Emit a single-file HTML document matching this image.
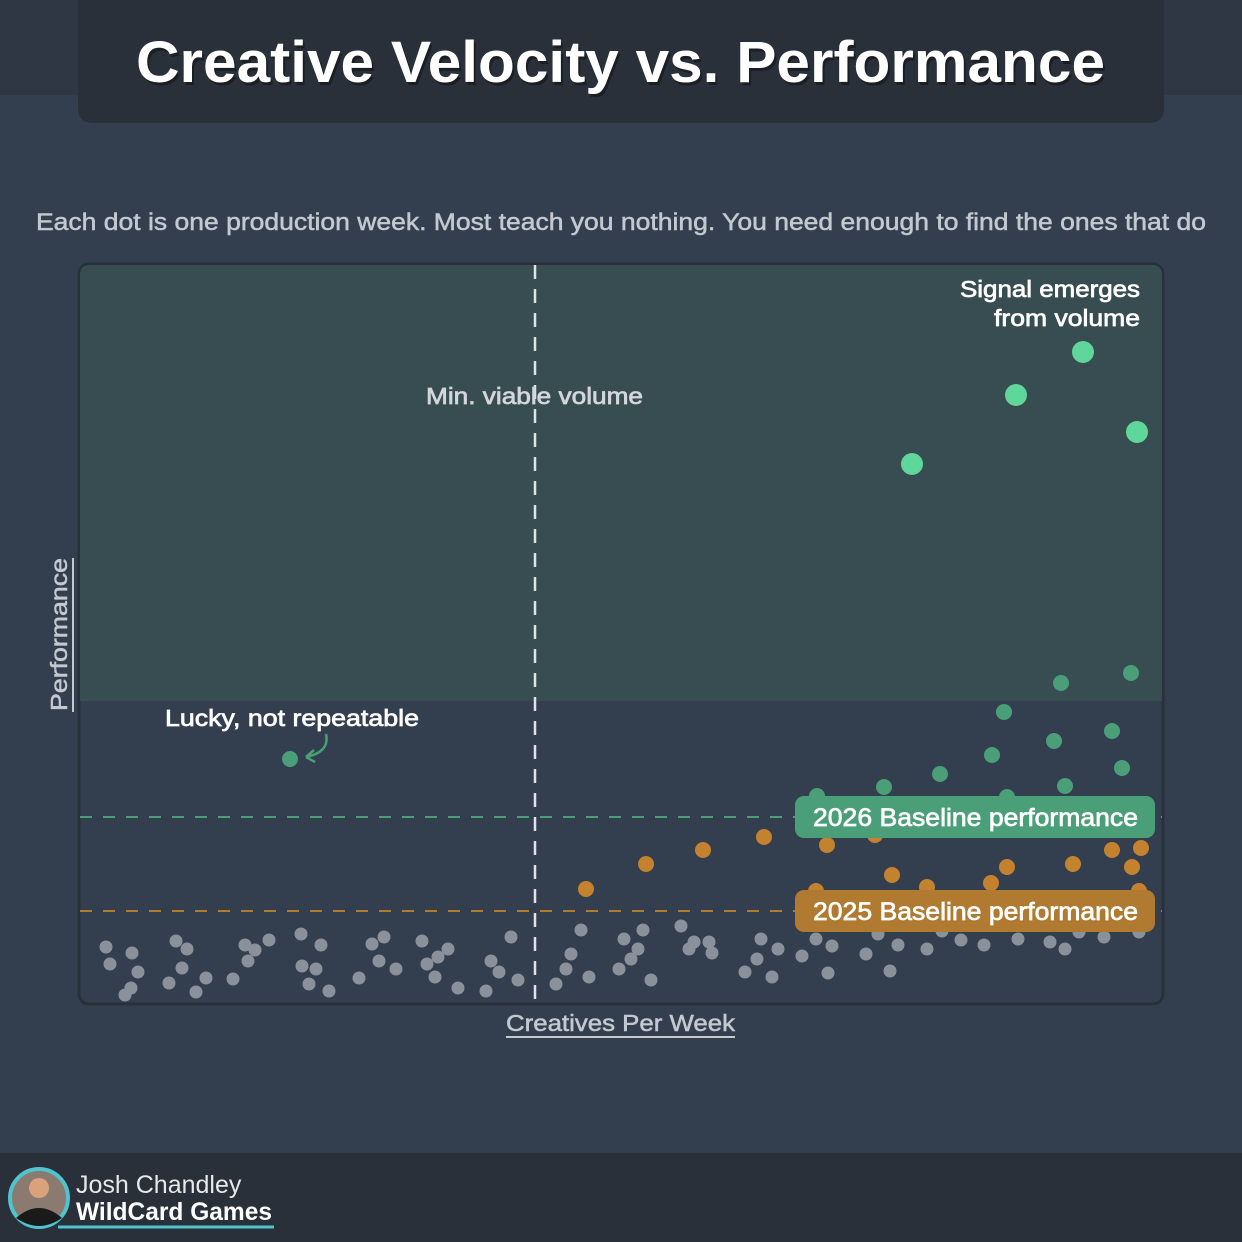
<!DOCTYPE html>
<html><head><meta charset="utf-8"><style>
html,body{margin:0;padding:0;background:#333f4f;}
svg{display:block;font-family:"Liberation Sans",sans-serif;}
</style></head><body>
<svg id="c" width="1242" height="1242" viewBox="0 0 1242 1242">
<rect x="0" y="0" width="1242" height="1242" fill="#333f4f"/>
<rect x="0" y="0" width="1242" height="95" fill="#2e3743"/>
<path d="M78 0 H1164 V108 Q1164 123 1149 123 H93 Q78 123 78 108 Z" fill="#2a3039"/>
<text x="136" y="82" font-size="58" font-weight="bold" fill="#000" opacity="0.35" transform="translate(2,3)" textLength="969" lengthAdjust="spacingAndGlyphs">Creative Velocity vs. Performance</text>
<text x="136" y="82" font-size="58" font-weight="bold" fill="#ffffff" textLength="969" lengthAdjust="spacingAndGlyphs">Creative Velocity vs. Performance</text>
<text x="36" y="230" font-size="24" fill="#c4c9cf" stroke="#c4c9cf" stroke-width="0.5" textLength="1170" lengthAdjust="spacingAndGlyphs">Each dot is one production week. Most teach you nothing. You need enough to find the ones that do</text>
<rect x="79" y="264" width="1084" height="740" rx="10" fill="#333e4f" stroke="#283039" stroke-width="3"/>
<path d="M80 275 Q80 265 90 265 H1152 Q1162 265 1162 275 V701 H80 Z" fill="#374d52"/>
<g id="marks"></g>
<text x="506" y="1031" font-size="23" fill="#c4c9cf" stroke="#c4c9cf" stroke-width="0.5" textLength="229" lengthAdjust="spacingAndGlyphs">Creatives Per Week</text>
<line x1="506" y1="1037" x2="735" y2="1037" stroke="#c4c9cf" stroke-width="2"/>
<text transform="translate(67,711) rotate(-90)" font-size="23" fill="#c4c9cf" stroke="#c4c9cf" stroke-width="0.5" textLength="153" lengthAdjust="spacingAndGlyphs">Performance</text>
<line x1="73" y1="558" x2="73" y2="712" stroke="#c4c9cf" stroke-width="2"/>
<rect x="0" y="1153" width="1242" height="89" fill="#2a3039"/>
<circle cx="39" cy="1198" r="29" fill="#8a7a70" stroke="#4fc4cf" stroke-width="4"/>
<circle cx="39" cy="1188" r="10" fill="#d9a27a"/>
<path d="M16 1218 Q39 1198 62 1218 Q50 1226 39 1226 Q28 1226 16 1218Z" fill="#1a1a1a"/>
<text x="76" y="1193" font-size="25" fill="#e6e8ea">Josh Chandley</text>
<text x="76" y="1220" font-size="25" font-weight="bold" fill="#ffffff" textLength="196" lengthAdjust="spacingAndGlyphs">WildCard Games</text>
<line x1="58" y1="1227" x2="274" y2="1227" stroke="#4fc4cf" stroke-width="3"/>
</svg>
<script>
// data units: x = creatives index (0..1082), y = performance (0..738)
const grayX=[26,30,51,52,58,45,96,107,102,89,126,116,165,168,153,189,175,222,236,229,249,221,241,299,292,316,279,304,358,347,355,378,342,368,411,419,438,406,431,491,486,509,476,501,544,558,551,571,539,563,609,614,632,601,629,681,677,698,665,722,692,736,752,786,748,798,818,810,847,862,881,904,938,970,985,999,1024,1059];
const grayY=[56,39,15,50,31,8,62,54,35,20,25,11,58,42,24,63,53,37,34,19,12,69,58,42,59,34,25,66,46,39,26,15,62,54,42,31,23,12,66,49,34,26,19,73,64,54,44,23,34,73,54,61,50,77,61,64,44,54,31,47,26,64,57,49,30,69,58,32,54,72,63,58,64,61,54,71,66,71];
const orangeX=[506,566,623,684,747,795,812,847,911,927,993,1032,1052,1061,1059,736];
const orangeY=[114,139,153,166,158,168,128,116,120,136,139,153,136,155,112,112];
const greenX=[210,737,804,860,912,924,927,974,981,985,1032,1042,1051];
const greenY=[244,207,216,229,248,291,206,262,320,217,272,235,330];
const bigX=[832,936,1003,1057];
const bigY=[539,608,651,571];
const refX=455, base2026=186, base2025=92;
const X0=80, Y0=1003;
const sx=v=>X0+v, sy=v=>Y0-v;
const NS="http://www.w3.org/2000/svg";
const g=document.getElementById('marks');
function mk(t,a){const e=document.createElementNS(NS,t);for(const k in a)e.setAttribute(k,a[k]);g.appendChild(e);return e;}
grayX.forEach((v,i)=>{const c=mk('circle',{cx:sx(v),cy:sy(grayY[i]),r:6.5,fill:'#8a919b'});

});
let l=mk('line',{x1:sx(refX),y1:265,x2:sx(refX),y2:1003,stroke:'#dfe3e6','stroke-width':2.5,'stroke-dasharray':'14 10'});


let l1=mk('line',{x1:80,y1:sy(base2026),x2:1162,y2:sy(base2026),stroke:'#4a9e78','stroke-width':2,'stroke-dasharray':'12 11'});


let l2=mk('line',{x1:80,y1:sy(base2025),x2:1162,y2:sy(base2025),stroke:'#b07a30','stroke-width':2,'stroke-dasharray':'12 11'});


orangeX.forEach((v,i)=>{const c=mk('circle',{cx:sx(v),cy:sy(orangeY[i]),r:8,fill:'#c4822f'});

});
greenX.forEach((v,i)=>{const c=mk('circle',{cx:sx(v),cy:sy(greenY[i]),r:8,fill:'#4a9e78'});

});
bigX.forEach((v,i)=>{const c=mk('circle',{cx:sx(v),cy:sy(bigY[i]),r:11,fill:'#5fd69a'});

});
function label(txt,y,fill,name){
 const r=mk('rect',{x:795,y:y-21,width:360,height:42,rx:9,fill:fill});
 
 
 const t=mk('text',{x:813,y:y+9,'font-size':25,fill:'#ffffff',stroke:'#ffffff','stroke-width':0.7,textLength:325,lengthAdjust:'spacingAndGlyphs'});t.textContent=txt;
 
 
}
label('2026 Baseline performance',sy(base2026),'#4a9e78','baseline-2026-label');
label('2025 Baseline performance',sy(base2025),'#b07a30','baseline-2025-label');
function txt(s,x,y,w,name,col){const t=mk('text',{x:x,y:y,'font-size':23,fill:col||'#ffffff',stroke:col||'#ffffff','stroke-width':0.7,textLength:w,lengthAdjust:'spacingAndGlyphs'});t.textContent=s;
 
 return t;}
txt('Min. viable volume',426,404,217,'min-viable-volume-label','#d3d7dc');
txt('Signal emerges',960,297,180,'signal-annotation');
txt('from volume',994,326,146,'signal-annotation-2');
txt('Lucky, not repeatable',165,726,254,'lucky-annotation');
const a=mk('path',{d:'M326 734 Q330 752 306 757 M306 757 L314 750 M306 757 L315 762',fill:'none',stroke:'#4a9e78','stroke-width':2.5});


</script>
</body></html>
